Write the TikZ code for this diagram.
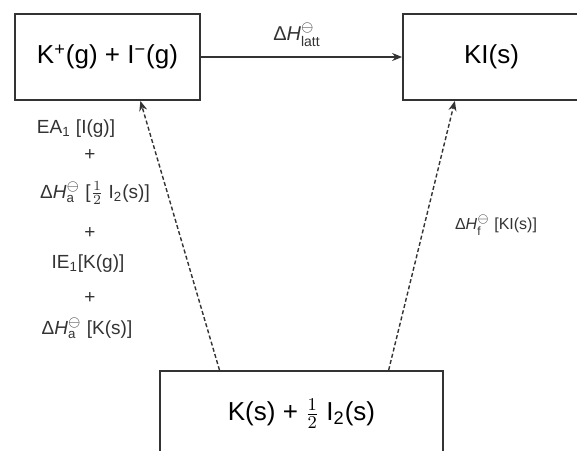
\documentclass[tikz,border=0pt]{standalone}
\usepackage{fontspec}
\setmainfont{Liberation Sans}
\usetikzlibrary{arrows.meta,positioning,calc}
\definecolor{linegray}{gray}{0.2}
\newcommand{\dH}[1]{Δ\textit{H}$^{\ominus}_{\mathrm{#1}}$}
\newcommand{\halfof}{$\frac{1}{2}$}

\begin{document}
\begin{tikzpicture}[
  x=0.5pt, y=-0.5pt,
  state/.style={draw=linegray, line width=0.9pt, font=\fontsize{13}{15}\selectfont, inner sep=0pt},
  term/.style={font=\fontsize{9.5}{11}\selectfont, inner sep=0pt, text=linegray},
  arr/.style={-{Stealth[length=5pt, width=4pt]}, line width=0.7pt, color=linegray},
  dasharr/.style={arr, dash pattern=on 2pt off 1.2pt},
]
  \useasboundingbox (0,0) rectangle (577,450);
  \clip (0,0) rectangle (577,450);

  % the three states
  \node[state, minimum width=92.5pt, minimum height=43pt] (gas) at (107.5,57) {K\textsuperscript{+}(g) + I\textsuperscript{−}(g)};
  \node[state, minimum width=88.5pt, minimum height=43pt] (solid) at (491.5,57) {KI(s)};
  \node[state, minimum width=141.5pt, minimum height=43pt] (elem) at (301.5,414) {K(s) + \halfof\ I\textsubscript{2}(s)};

  % lattice step
  \draw[arr] (gas.east) -- (solid.west);
  \node[term, font=\fontsize{10}{12}\selectfont] (latt) at (297,35) {\dH{latt}};

  % cycle steps
  \coordinate (gasin) at ($(gas.south west)!0.676!(gas.south east)$);
  \coordinate (elemout1) at ($(elem.north west)!0.212!(elem.north east)$);
  \coordinate (solidin) at ($(solid.south west)!0.295!(solid.south east)$);
  \coordinate (elemout2) at ($(elem.north west)!0.806!(elem.north east)$);
  \draw[dasharr] (elemout1) -- (gasin);
  \draw[dasharr] (elemout2) -- (solidin);

  % sum of step enthalpies
  \node[term] (ea) at (76,129) {EA\textsubscript{1} [I(g)]};
  \node[term] (plusa) at (90,155) {+};
  \node[term] (atomi) at (95,193) {\dH{a} [\halfof\ I\textsubscript{2}(s)]};
  \node[term] (plusb) at (90,233) {+};
  \node[term] (ie) at (88,264) {IE\textsubscript{1}[K(g)]};
  \node[term] (plusc) at (90,298) {+};
  \node[term] (atomk) at (87,328) {\dH{a} [K(s)]};

  \node[term, font=\fontsize{8}{10}\selectfont] (form) at (496,225) {\dH{f} [KI(s)]};
\end{tikzpicture}
\end{document}
